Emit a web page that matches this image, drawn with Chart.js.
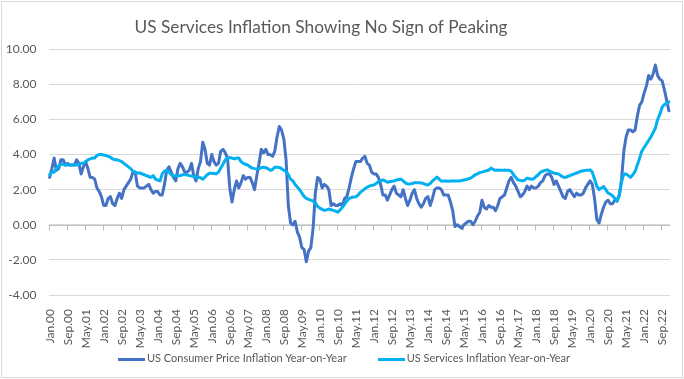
<!DOCTYPE html>
<html>
<head>
<meta charset="utf-8">
<script src="https://cdn.jsdelivr.net/npm/chart.js@4.4.1/dist/chart.umd.min.js"></script>
<style>
  html, body { margin: 0; padding: 0; background: #fff; }
  #frame { position: absolute; left: 1px; top: 1px; width: 680px; height: 375px; border: 1px solid #d9d9d9; }
  #wrap { position: absolute; left: 0; top: 0; width: 684px; height: 379px; }
  #legend {
    position: absolute; left: 2px; top: 350px; width: 684px;
    display: flex; justify-content: center; gap: 31px;
    font: 11px Lato, "Open Sans", sans-serif; line-height: 16px; color: #595959;
  }
  #legend .swatch { display: inline-block; width: 27px; height: 3px; margin-right: 2px; vertical-align: middle; }
</style>
</head>
<body>
<div id="frame"></div>
<div id="wrap"><canvas id="chart" width="684" height="379"></canvas></div>
<div id="legend"></div>
<script>
// monthly categories Jan.00 .. Dec.22, a label shown every 8 months
const MONTHS = ['Jan', 'Feb', 'Mar', 'Apr', 'May', 'Jun', 'Jul', 'Aug', 'Sep', 'Oct', 'Nov', 'Dec']
const FIRST_YEAR = 2000
const LAST_YEAR = 2022
const LABEL_STEP = 8

// US CPI, year-on-year %
const cpiYoY = [
    2.7, 3.2, 3.8, 3.1, 3.2, 3.7, 3.7, 3.4, 3.5, 3.4, 3.4, 3.4,       // 2000
    3.7, 3.5, 2.9, 3.3, 3.6, 3.2, 2.7, 2.7, 2.6, 2.1, 1.9, 1.6,       // 2001
    1.1, 1.1, 1.5, 1.6, 1.2, 1.1, 1.5, 1.8, 1.5, 2.0, 2.2, 2.4,       // 2002
    2.6, 3.0, 3.0, 2.2, 2.1, 2.1, 2.1, 2.2, 2.3, 2.0, 1.8, 1.9,       // 2003
    1.9, 1.7, 1.7, 2.3, 3.1, 3.3, 3.0, 2.7, 2.5, 3.2, 3.5, 3.3,       // 2004
    3.0, 3.0, 3.1, 3.5, 2.8, 2.5, 3.2, 3.6, 4.7, 4.3, 3.5, 3.4,       // 2005
    4.0, 3.6, 3.4, 3.5, 4.2, 4.3, 4.1, 3.8, 2.1, 1.3, 2.0, 2.5,       // 2006
    2.1, 2.4, 2.8, 2.6, 2.7, 2.7, 2.4, 2.0, 2.8, 3.5, 4.3, 4.1,       // 2007
    4.3, 4.0, 4.0, 3.9, 4.2, 5.0, 5.6, 5.4, 4.9, 3.7, 1.1, 0.1,       // 2008
    0.0, 0.2, -0.4, -0.7, -1.3, -1.4, -2.1, -1.5, -1.3, -0.2, 1.8, 2.7, // 2009
    2.6, 2.1, 2.3, 2.2, 2.0, 1.1, 1.2, 1.1, 1.1, 1.2, 1.1, 1.5,       // 2010
    1.6, 2.1, 2.7, 3.2, 3.6, 3.6, 3.6, 3.8, 3.9, 3.5, 3.4, 3.0,       // 2011
    2.9, 2.9, 2.7, 2.3, 1.7, 1.7, 1.4, 1.7, 2.0, 2.2, 1.8, 1.7,       // 2012
    1.6, 2.0, 1.5, 1.1, 1.4, 1.8, 2.0, 1.5, 1.2, 1.0, 1.2, 1.5,       // 2013
    1.6, 1.1, 1.5, 2.0, 2.1, 2.1, 2.0, 1.7, 1.7, 1.7, 1.3, 0.8,       // 2014
    -0.1, 0.0, -0.1, -0.2, 0.0, 0.1, 0.2, 0.2, 0.0, 0.2, 0.5, 0.7,    // 2015
    1.4, 1.0, 0.9, 1.1, 1.0, 1.0, 0.8, 1.1, 1.5, 1.6, 1.7, 2.1,       // 2016
    2.5, 2.7, 2.4, 2.2, 1.9, 1.6, 1.7, 1.9, 2.2, 2.0, 2.2, 2.1,       // 2017
    2.1, 2.2, 2.4, 2.5, 2.8, 2.9, 2.9, 2.7, 2.3, 2.5, 2.2, 1.9,       // 2018
    1.6, 1.5, 1.9, 2.0, 1.8, 1.6, 1.8, 1.7, 1.7, 1.8, 2.1, 2.3,       // 2019
    2.5, 2.3, 1.5, 0.3, 0.1, 0.6, 1.0, 1.3, 1.4, 1.2, 1.2, 1.4,       // 2020
    1.4, 1.7, 2.6, 4.2, 5.0, 5.4, 5.4, 5.3, 5.4, 6.2, 6.8, 7.0,       // 2021
    7.5, 7.9, 8.5, 8.3, 8.6, 9.1, 8.5, 8.3, 8.2, 7.7, 7.1, 6.5        // 2022
]

// US services inflation, year-on-year %
const servicesYoY = [
    2.85, 3.0, 3.0, 3.2, 3.35, 3.45, 3.45, 3.4, 3.4, 3.4, 3.4, 3.4,       // 2000
    3.4, 3.45, 3.5, 3.5, 3.6, 3.7, 3.75, 3.8, 3.8, 3.95, 4.0, 4.0,        // 2001
    3.98, 3.95, 3.9, 3.85, 3.75, 3.7, 3.7, 3.65, 3.6, 3.5, 3.4, 3.3,      // 2002
    3.2, 3.05, 3.0, 2.95, 2.95, 2.9, 2.85, 2.8, 2.75, 2.7, 2.8, 2.6,      // 2003
    2.55, 2.5, 2.9, 3.05, 3.1, 3.0, 2.85, 2.8, 2.8, 2.8, 2.8, 2.85,       // 2004
    2.85, 2.85, 2.8, 2.78, 2.75, 2.72, 2.72, 2.68, 2.6, 2.72, 2.85, 2.94, // 2005
    2.94, 2.92, 2.9, 3.0, 3.23, 3.45, 3.7, 3.78, 3.83, 3.8, 3.75, 3.8,    // 2006
    3.8, 3.6, 3.5, 3.45, 3.4, 3.3, 3.23, 3.2, 3.18, 3.2, 3.25, 3.28,      // 2007
    3.25, 3.2, 3.1, 3.15, 3.28, 3.28, 3.27, 3.2, 3.1, 3.04, 2.85, 2.6,    // 2008
    2.5, 2.3, 2.15, 2.0, 1.8, 1.62, 1.5, 1.45, 1.4, 1.35, 1.25, 1.05,     // 2009
    0.95, 0.88, 0.82, 0.85, 0.9, 0.86, 0.82, 0.78, 0.72, 0.85, 1.0, 1.17, // 2010
    1.35, 1.5, 1.55, 1.58, 1.6, 1.7, 1.85, 1.95, 2.05, 2.14, 2.2, 2.25,   // 2011
    2.27, 2.35, 2.46, 2.5, 2.56, 2.5, 2.42, 2.45, 2.48, 2.5, 2.55, 2.58,  // 2012
    2.6, 2.5, 2.38, 2.33, 2.33, 2.35, 2.4, 2.4, 2.4, 2.38, 2.35, 2.3,     // 2013
    2.27, 2.35, 2.5, 2.6, 2.72, 2.6, 2.48, 2.5, 2.5, 2.48, 2.5, 2.5,      // 2014
    2.5, 2.5, 2.5, 2.52, 2.55, 2.58, 2.62, 2.66, 2.75, 2.85, 2.9, 2.98,   // 2015
    3.0, 3.04, 3.08, 3.12, 3.23, 3.15, 3.1, 3.12, 3.1, 3.1, 3.12, 3.1,    // 2016
    3.1, 3.05, 2.85, 2.7, 2.55, 2.53, 2.5, 2.55, 2.66, 2.62, 2.6, 2.62,   // 2017
    2.75, 2.85, 3.0, 3.05, 3.1, 3.13, 3.05, 3.0, 2.94, 2.92, 2.9, 2.8,    // 2018
    2.72, 2.7, 2.75, 2.8, 2.85, 2.9, 2.95, 3.0, 3.05, 3.08, 3.1, 3.1,     // 2019
    3.13, 3.0, 2.6, 2.2, 2.0, 2.1, 2.18, 2.0, 1.8, 1.75, 1.65, 1.5,       // 2020
    1.33, 1.7, 2.45, 2.9, 2.9, 2.8, 2.7, 2.85, 3.04, 3.4, 3.8, 4.2,       // 2021
    4.4, 4.6, 4.8, 5.0, 5.25, 5.5, 6.0, 6.3, 6.7, 6.85, 6.92, 7.0         // 2022
]

const labels = []
for (let yr = FIRST_YEAR; yr <= LAST_YEAR; yr++) {
    MONTHS.forEach(m => labels.push(m + '.' + String(yr % 100).padStart(2, '0')))
}

const TEXT = '#595959'
const FONT = 'Lato, "Open Sans", sans-serif'

// category axis crosses at 0: line + tick marks between categories
const zeroAxis = {
    id: 'zeroAxis',
    beforeDatasetsDraw(chart) {
        const { ctx, chartArea, scales } = chart
        const x = scales.x
        const y0 = Math.round(scales.y.getPixelForValue(0)) + 0.5
        const half = (x.getPixelForValue(1) - x.getPixelForValue(0)) / 2
        ctx.save()
        ctx.strokeStyle = '#bfbfbf'
        ctx.lineWidth = 1
        ctx.beginPath()
        ctx.moveTo(chartArea.left, y0)
        ctx.lineTo(chartArea.right, y0)
        for (let i = 0; i < labels.length; i += LABEL_STEP) {
            const px = Math.round(x.getPixelForValue(i) - half) + 0.5
            ctx.moveTo(px, y0)
            ctx.lineTo(px, y0 + 5)
        }
        ctx.stroke()
        ctx.restore()
    }
}

var chart = new Chart(document.getElementById('chart'), {
    type: 'line',
    data: {
        labels,
        datasets: [
            {
                label: 'US Consumer Price Inflation Year-on-Year',
                data: cpiYoY,
                borderColor: '#4472c4',
                backgroundColor: '#4472c4',
                order: 1
            },
            {
                label: 'US Services Inflation Year-on-Year',
                data: servicesYoY,
                borderColor: '#00b0f0',
                backgroundColor: '#00b0f0',
                order: 0
            }
        ]
    },
    options: {
        responsive: false,
        devicePixelRatio: 1,
        animation: false,
        // negative left padding only moves the title centre over to the left, like the original
        layout: { padding: { left: -28, right: 14, top: 0, bottom: 26 } },
        elements: {
            point: { radius: 0 },
            line: { borderWidth: 3, tension: 0, borderJoinStyle: 'round', borderCapStyle: 'round' }
        },
        plugins: {
            title: {
                display: true,
                text: 'US Services Inflation Showing No Sign of Peaking',
                color: TEXT,
                font: { family: FONT, size: 17.3, weight: 'normal' },
                padding: { top: 17, bottom: 11.5 }
            },
            legend: { display: false },
            tooltip: { enabled: false }
        },
        scales: {
            x: {
                type: 'category',
                offset: true,
                grid: { display: false },
                border: { display: false },
                ticks: {
                    autoSkip: false,
                    minRotation: 90,
                    maxRotation: 90,
                    padding: 6,
                    color: TEXT,
                    font: { family: FONT, size: 12 },
                    callback(value, index) {
                        return index % LABEL_STEP === 0 ? this.getLabelForValue(value) : null
                    }
                },
                afterFit(scale) { scale.height = 58 }
            },
            y: {
                min: -4,
                max: 10,
                grid: { color: '#d9d9d9', drawTicks: false },
                border: { display: false },
                ticks: {
                    stepSize: 2,
                    padding: 12,
                    color: TEXT,
                    font: { family: FONT, size: 12 },
                    callback: v => v.toFixed(2)
                },
                afterFit(scale) { scale.width = 76.5 }
            }
        }
    },
    plugins: [zeroAxis]
})

// legend: short thick line then the series name, as in the original
const legendEl = document.getElementById('legend')
chart.data.datasets.forEach(ds => {
    const item = document.createElement('span')
    const swatch = document.createElement('i')
    swatch.className = 'swatch'
    swatch.style.background = ds.borderColor
    item.appendChild(swatch)
    item.appendChild(document.createTextNode(ds.label))
    legendEl.appendChild(item)
})
</script>
</body>
</html>
